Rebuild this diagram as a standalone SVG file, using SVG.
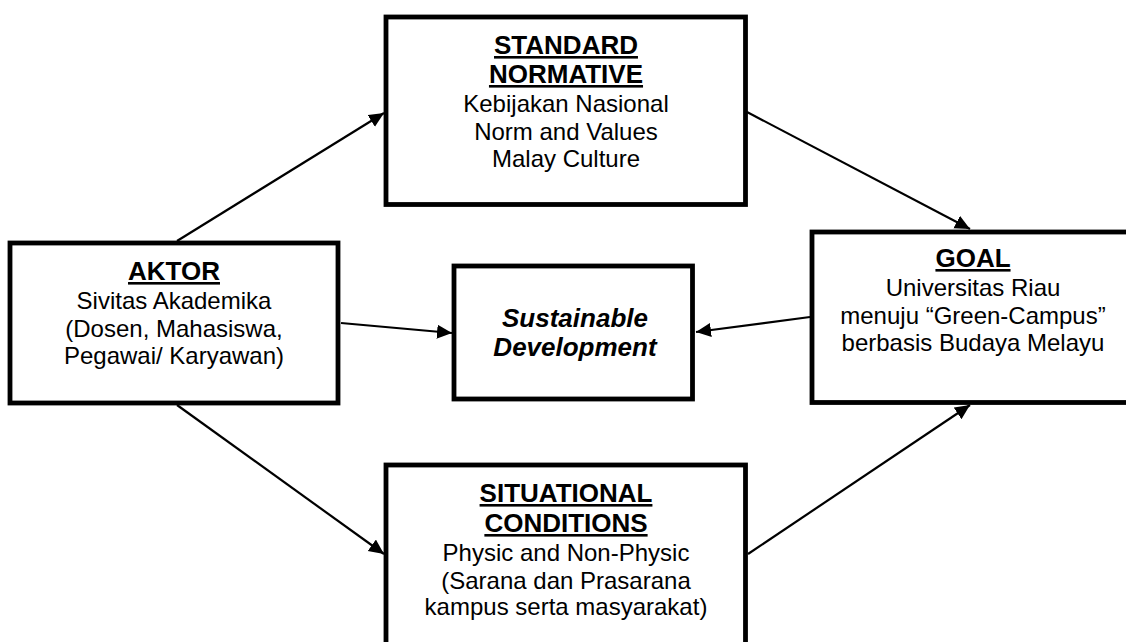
<svg xmlns="http://www.w3.org/2000/svg" width="1126" height="642" viewBox="0 0 1126 642">
<defs>
<marker id="ah" markerUnits="userSpaceOnUse" markerWidth="16" markerHeight="15" refX="15" refY="7" orient="auto">
<path d="M0,0 L15,7 L0,14 z" fill="#000"/>
</marker>
<style>
.box{fill:#fff;stroke:#000;stroke-width:4.8}
.t{font-family:"Liberation Sans",Arial,sans-serif;font-size:24px;fill:#000;text-anchor:middle}
.h{font-weight:bold;font-size:26px;text-decoration:underline}
.bi{font-weight:bold;font-style:italic;font-size:26px}
.c{fill:none;stroke:#000;stroke-width:2.2;marker-end:url(#ah)}
</style>
</defs>
<rect width="1126" height="642" fill="#fff"/>
<g id="connectors">
<line class="c" x1="177" y1="241" x2="384" y2="113"/>
<line class="c" x1="747" y1="112" x2="970" y2="229"/>
<line class="c" x1="341" y1="323" x2="452" y2="333"/>
<line class="c" x1="810" y1="317" x2="696" y2="332"/>
<line class="c" x1="177" y1="405" x2="384" y2="554"/>
<line class="c" x1="748" y1="554" x2="970" y2="405"/>
</g>
<g id="standard">
<rect class="box" x="386" y="17" width="359.5" height="187.5"/>
<text class="t h" x="566" y="54">STANDARD</text>
<text class="t h" x="566" y="83">NORMATIVE</text>
<text class="t" x="566" y="112">Kebijakan Nasional</text>
<text class="t" x="566" y="140">Norm and Values</text>
<text class="t" x="566" y="167">Malay Culture</text>
</g>
<g id="aktor">
<rect class="box" x="10" y="243" width="328" height="160"/>
<text class="t h" x="174" y="280">AKTOR</text>
<text class="t" x="174" y="309">Sivitas Akademika</text>
<text class="t" x="174" y="337">(Dosen, Mahasiswa,</text>
<text class="t" x="174" y="364">Pegawai/ Karyawan)</text>
</g>
<g id="sustainable">
<rect class="box" x="454" y="266" width="238.5" height="133"/>
<text class="t bi" x="575" y="327">Sustainable</text>
<text class="t bi" x="575" y="356">Development</text>
</g>
<g id="goal">
<rect class="box" x="812" y="232" width="322" height="170.5"/>
<text class="t h" x="973" y="267">GOAL</text>
<text class="t" x="973" y="296">Universitas Riau</text>
<text class="t" x="973" y="324">menuju “Green-Campus”</text>
<text class="t" x="973" y="351">berbasis Budaya Melayu</text>
</g>
<g id="situational">
<rect class="box" x="386" y="465" width="359.5" height="190"/>
<text class="t h" x="566" y="502">SITUATIONAL</text>
<text class="t h" x="566" y="532">CONDITIONS</text>
<text class="t" x="566" y="561">Physic and Non-Physic</text>
<text class="t" x="566" y="589">(Sarana dan Prasarana</text>
<text class="t" x="566" y="615">kampus serta masyarakat)</text>
</g>
</svg>
